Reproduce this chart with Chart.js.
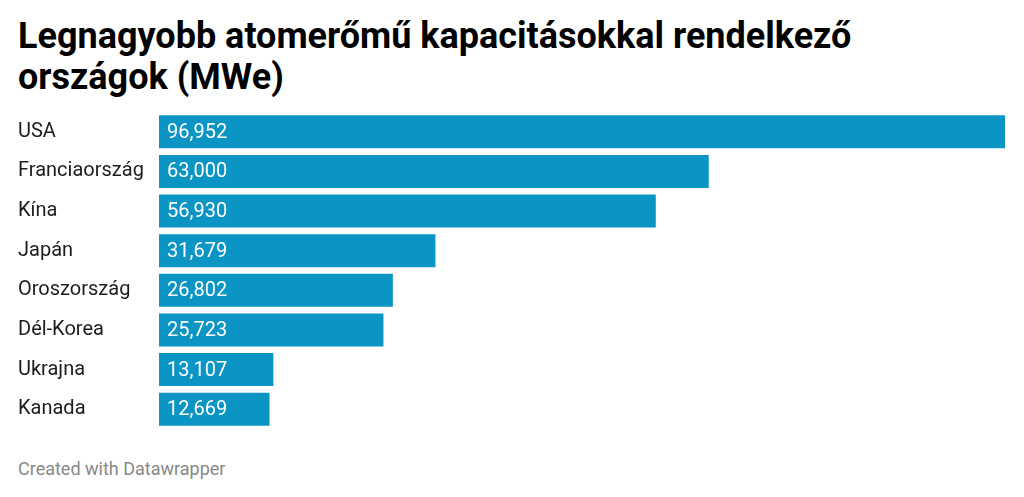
<!DOCTYPE html>
<html>
<head>
<meta charset="utf-8">
<script src="https://cdn.jsdelivr.net/npm/chart.js@4/dist/chart.umd.min.js"></script>
<style>
  html, body { margin: 0; padding: 0; background: #fff; width: 1024px; height: 497px; overflow: hidden; }
  #title { position: absolute; left: 18px; top: 16px; font-family: Roboto, sans-serif; font-weight: 700; font-size: 36px; line-height: 41px; color: #000; margin: 0; white-space: nowrap; }
  #footer { position: absolute; left: 18px; top: 458px; font-family: Roboto, sans-serif; font-size: 18px; color: #888; white-space: nowrap; }
  #wrap { position: absolute; left: 0; top: 112px; width: 1024px; height: 317px; }
</style>
</head>
<body>
<div id="title">Legnagyobb atomerőmű kapacitásokkal rendelkező<br>országok (MWe)</div>
<div id="wrap"><canvas id="c"></canvas></div>
<div id="footer">Created with Datawrapper</div>
<script>
const categories = ["USA", "Franciaország", "Kína", "Japán", "Oroszország", "Dél-Korea", "Ukrajna", "Kanada"];
const values = [96952, 63000, 56930, 31679, 26802, 25723, 13107, 12669];

const valueLabels = {
  id: 'valueLabels',
  afterDatasetsDraw(chart) {
    const ctx = chart.ctx;
    const meta = chart.getDatasetMeta(0);
    ctx.save();
    ctx.font = '20px Roboto, sans-serif';
    ctx.fillStyle = '#ffffff';
    ctx.textBaseline = 'middle';
    ctx.textAlign = 'left';
    meta.data.forEach((bar, i) => {
      ctx.fillText(values[i].toLocaleString('en-US'), bar.base + 8, bar.y + 1);
    });
    ctx.restore();
  }
};

new Chart(document.getElementById('c'), {
  type: 'bar',
  data: {
    labels: categories,
    datasets: [{
      data: values,
      backgroundColor: '#0a95c5',
      borderWidth: 0,
      categoryPercentage: 1,
      barPercentage: 0.835
    }]
  },
  options: {
    indexAxis: 'y',
    responsive: true,
    maintainAspectRatio: false,
    animation: false,
    layout: { padding: { left: 18, right: 19, top: 0, bottom: 0 } },
    plugins: { legend: { display: false }, tooltip: { enabled: false } },
    scales: {
      x: { display: false, min: 0, max: 96952 },
      y: {
        grid: { display: false },
        border: { display: false },
        ticks: {
          crossAlign: 'far',
          padding: 0,
          color: '#1d1d1d',
          font: { family: 'Roboto, sans-serif', size: 20 }
        },
        afterFit(scale) {
          scale.width = 141;
          scale.paddingTop = 0;
          scale.paddingBottom = 0;
        }
      }
    }
  },
  plugins: [valueLabels]
});
</script>
</body>
</html>
